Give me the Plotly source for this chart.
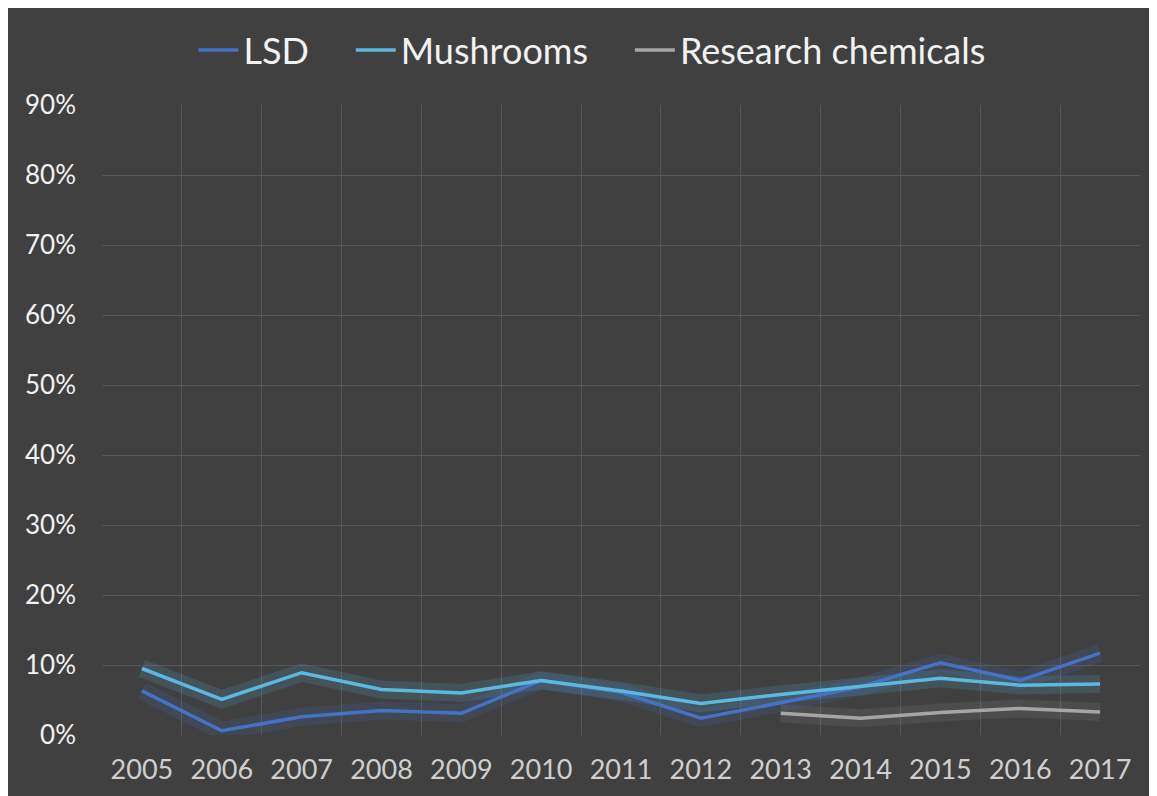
import plotly.graph_objects as go

years = ["2005", "2006", "2007", "2008", "2009", "2010", "2011", "2012", "2013", "2014", "2015", "2016", "2017"]
lsd = [6.3, 0.6, 2.6, 3.5, 3.1, 7.8, 6.1, 2.4, 4.6, 6.9, 10.3, 7.8, 11.7]
mushrooms = [9.5, 5.1, 8.9, 6.5, 6.0, 7.8, 6.3, 4.5, 5.8, 6.9, 8.1, 7.1, 7.3]
research = [None, None, None, None, None, None, None, None, 3.1, 2.4, 3.2, 3.8, 3.3]

NB = "\u00a0"
series = [
    ("LSD", "LSD" + NB * 4, lsd, "#4472C4", "rgba(68,114,196,0.16)"),
    ("Mushrooms", "Mushrooms" + NB * 4, mushrooms, "#5BB8DE", "rgba(91,184,222,0.16)"),
    ("Research chemicals", "Research chemicals", research, "#A5A5A5", "rgba(165,165,165,0.12)"),
]

fig = go.Figure()
# glow underlays
for name, label, vals, col, glow in series:
    fig.add_trace(go.Scatter(x=years, y=[v / 100 if v is not None else None for v in vals],
                             mode="lines", line=dict(color=glow, width=18),
                             showlegend=False, hoverinfo="skip"))
for name, label, vals, col, glow in series:
    fig.add_trace(go.Scatter(x=years, y=[v / 100 if v is not None else None for v in vals],
                             mode="lines", name=label, line=dict(color=col, width=3.5)))

W, H = 1157, 796
L, R, T, B = 94, 25, 95, 69
pw = W - L - R
ph = H - T - B

fig.update_layout(
    width=W, height=H,
    margin=dict(l=L, r=R, t=T, b=B),
    paper_bgcolor="#404040",
    plot_bgcolor="#404040",
    font=dict(family="Lato, 'Open Sans', sans-serif", color="#F2F2F2"),
    showlegend=True,
    legend=dict(orientation="h", x=(592 - 102) / pw, xanchor="center", y=1 + (T - 40) / ph, yanchor="middle",
                font=dict(size=36, color="#F2F2F2"), bgcolor="rgba(0,0,0,0)",
                itemwidth=40, tracegroupgap=0),
    xaxis=dict(type="category", range=[-0.5, 12.5], showgrid=True, gridcolor="#575757",
               gridwidth=1, tickson="boundaries", ticks="", showline=False, zeroline=False,
               tickfont=dict(size=27, color="#CFCFCF"), ticklabelstandoff=16, fixedrange=True),
    yaxis=dict(range=[0, 0.9], dtick=0.1, tickformat=".0%", showgrid=True, gridcolor="#575757",
               gridwidth=1, zeroline=False, showline=False, ticks="",
               tickfont=dict(size=26, color="#F2F2F2"), ticklabelstandoff=25, fixedrange=True),
)

fig.write_html("out.html")
